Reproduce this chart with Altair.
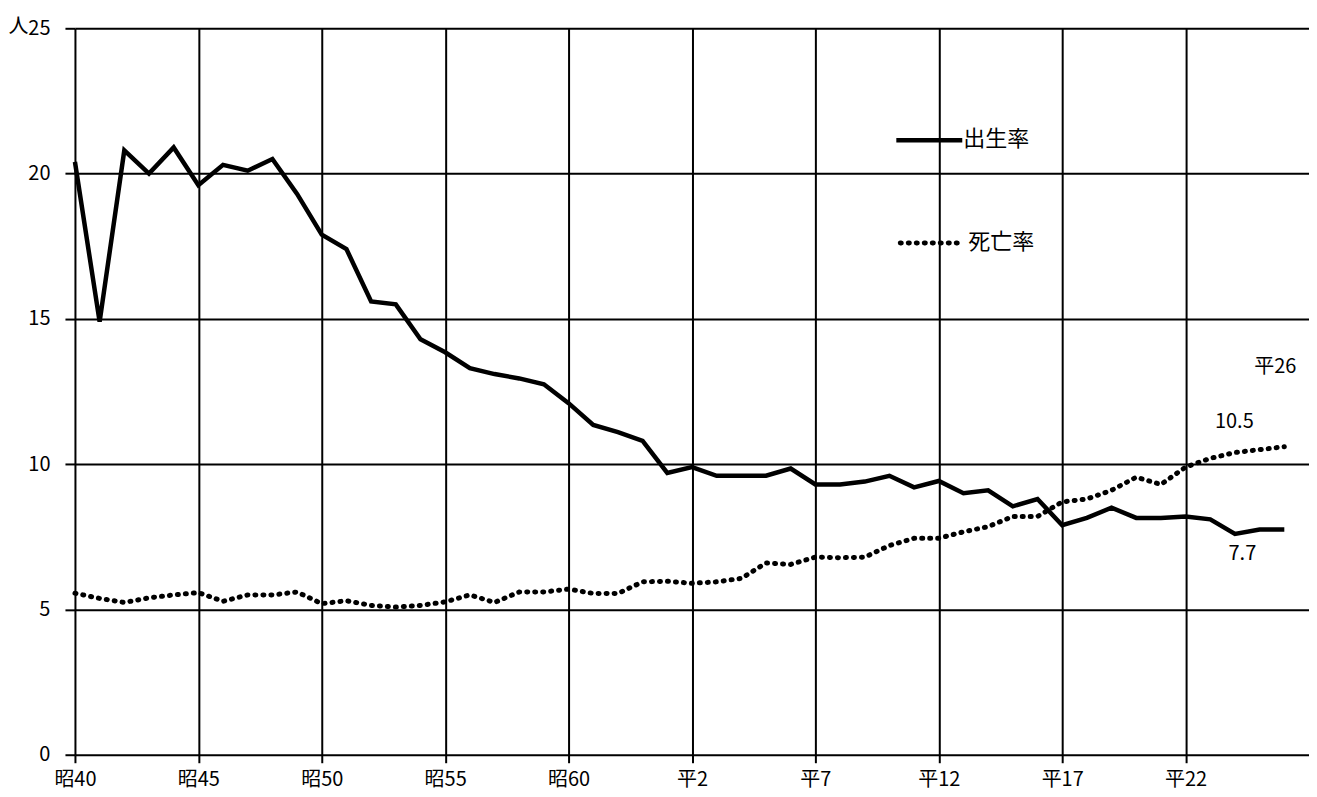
import altair as alt
import pandas as pd

years = list(range(1965, 2015))
birth = [20.4, 14.9, 20.8, 20.0, 20.9, 19.6, 20.3, 20.1, 20.5, 19.3,
         17.9, 17.4, 15.6, 15.5, 14.3, 13.85, 13.3, 13.1, 12.95, 12.75,
         12.1, 11.35, 11.1, 10.8, 9.7, 9.9, 9.6, 9.6, 9.6, 9.85,
         9.3, 9.3, 9.4, 9.6, 9.2, 9.42, 9.0, 9.1, 8.55, 8.8,
         7.9, 8.15, 8.5, 8.15, 8.15, 8.2, 8.1, 7.6, 7.75, 7.75]
death = [5.56, 5.38, 5.24, 5.4, 5.5, 5.58, 5.28, 5.5, 5.5, 5.6,
         5.2, 5.3, 5.14, 5.08, 5.14, 5.26, 5.5, 5.24, 5.6, 5.6,
         5.7, 5.55, 5.55, 5.95, 5.97, 5.9, 5.95, 6.07, 6.6, 6.55,
         6.8, 6.78, 6.8, 7.2, 7.45, 7.45, 7.67, 7.85, 8.2, 8.2,
         8.7, 8.8, 9.1, 9.55, 9.3, 9.9, 10.2, 10.4, 10.5, 10.6]
series_names = ["出生率", "死亡率"]
x_ticks = [1965, 1970, 1975, 1980, 1985, 1990, 1995, 2000, 2005, 2010]
y_ticks = [0, 5, 10, 15, 20, 25]

FONT = "Noto Sans CJK JP"

df_b = pd.DataFrame({"year": years, "v": birth})
df_d = pd.DataFrame({"year": years, "v": death})

xs = alt.Scale(domain=[1965, 2015], nice=False, zero=False)
ys = alt.Scale(domain=[0, 25], nice=False)

x_axis = alt.Axis(values=x_ticks,
                  labelExpr="datum.value < 1989 ? '昭' + (datum.value - 1925) : '平' + (datum.value - 1988)",
                  grid=True, gridColor="black", gridWidth=2, gridOpacity=1,
                  domain=False, ticks=True, tickColor="black", tickSize=8, tickWidth=2,
                  labelFont=FONT, labelFontSize=20, labelColor="black", labelPadding=7,
                  labelFlush=False, title=None)
y_axis = alt.Axis(values=y_ticks, grid=True, gridColor="black", gridWidth=2, gridOpacity=1,
                  domain=False, ticks=True, tickColor="black", tickSize=10, tickWidth=2,
                  labelFont=FONT, labelFontSize=20, labelColor="black", labelPadding=15,
                  title="人", titleAngle=0, titleFont=FONT, titleFontSize=20,
                  titleFontWeight="normal", titleColor="black", titleX=-67, titleY=8,
                  titleAlign="left")

birth_line = alt.Chart(df_b).mark_line(color="black", strokeWidth=4.5).encode(
    x=alt.X("year:Q", scale=xs, axis=x_axis),
    y=alt.Y("v:Q", scale=ys, axis=y_axis),
)
death_line = alt.Chart(df_d).mark_line(color="black", strokeWidth=5, strokeDash=[1, 7],
                                       strokeCap="round").encode(
    x=alt.X("year:Q", scale=xs),
    y=alt.Y("v:Q", scale=ys),
)

# annotations anchored at the last data points
ann_d = pd.DataFrame({"year": [years[-1], years[-1]], "v": [death[-1], death[-1]],
                      "t": ["10.5", "平26"]})
ann_b = pd.DataFrame({"year": [years[-1]], "v": [birth[-1]], "t": ["7.7"]})

t_105 = alt.Chart(ann_d.iloc[[0]]).mark_text(font=FONT, fontSize=20, color="black",
                                             dx=-50, dy=-25).encode(
    x=alt.X("year:Q", scale=xs), y=alt.Y("v:Q", scale=ys), text="t:N")
t_h26 = alt.Chart(ann_d.iloc[[1]]).mark_text(font=FONT, fontSize=20, color="black",
                                             dx=-9, dy=-80).encode(
    x=alt.X("year:Q", scale=xs), y=alt.Y("v:Q", scale=ys), text="t:N")
t_77 = alt.Chart(ann_b).mark_text(font=FONT, fontSize=20, color="black",
                                  dx=-42, dy=24).encode(
    x=alt.X("year:Q", scale=xs), y=alt.Y("v:Q", scale=ys), text="t:N")

# manual legend
leg_b_line = alt.Chart(pd.DataFrame({"n": [series_names[0]]})).mark_rule(
    color="black", strokeWidth=4.5).encode(x=alt.value(822), x2=alt.value(888), y=alt.value(112))
leg_d_line = alt.Chart(pd.DataFrame({"n": [series_names[1]]})).mark_rule(
    color="black", strokeWidth=5, strokeDash=[1, 7], strokeCap="round").encode(
    x=alt.value(826), x2=alt.value(890), y=alt.value(215))
leg_b_text = alt.Chart(pd.DataFrame({"n": [series_names[0]]})).mark_text(
    font=FONT, fontSize=22, color="black", align="left", baseline="middle").encode(
    x=alt.value(889), y=alt.value(111), text="n:N")
leg_d_text = alt.Chart(pd.DataFrame({"n": [series_names[1]]})).mark_text(
    font=FONT, fontSize=22, color="black", align="left", baseline="middle").encode(
    x=alt.value(894), y=alt.value(214), text="n:N")

chart = alt.layer(
    birth_line, death_line, t_105, t_h26, t_77,
    leg_b_line, leg_d_line, leg_b_text, leg_d_text,
).properties(
    width=1235, height=727,
    autosize=alt.AutoSizeParams(type="none"),
    padding={"left": 67, "top": 20, "right": 0, "bottom": 40},
    background="white",
).configure_view(stroke=None)

chart.save("out.html", embed_options={"renderer": "svg", "actions": False})
